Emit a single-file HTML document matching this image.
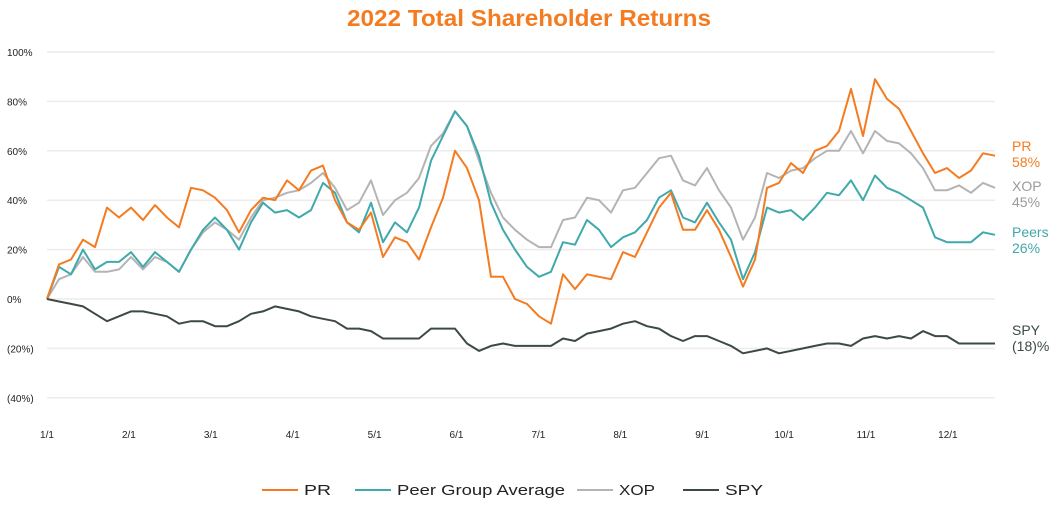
<!DOCTYPE html>
<html><head><meta charset="utf-8"><style>
body{margin:0;background:#fff;width:1058px;height:504px;overflow:hidden;font-family:"Liberation Sans",sans-serif}
svg text{font-family:"Liberation Sans",sans-serif}
</style></head><body>
<svg id="chart" width="1058" height="504">
<text x="347" y="26" textLength="364" lengthAdjust="spacingAndGlyphs" font-size="23" font-weight="bold" fill="#f47b20">2022 Total Shareholder Returns</text>
<g id="grid"></g><g id="series"></g><g id="labels"></g><g id="legend"></g>
</svg>
<script>
const xTicks=["1/1","2/1","3/1","4/1","5/1","6/1","7/1","8/1","9/1","10/1","11/1","12/1"];
const yTicks=[100,80,60,40,20,0,-20,-40];
const yTickLabels=["100%","80%","60%","40%","20%","0%","(20%)","(40%)"];
const prValues=[0,14,16,24,21,37,33,37,32,38,33,29,45,44,41,36,27,36,41,40,48,44,52,54,40,31,28,35,17,25,23,16,29,41,60,53,40,9,9,0,-2,-7,-10,10,4,10,9,8,19,17,27,37,43,28,28,36,28,17,5,16,45,47,55,51,60,62,68,85,66,89,81,77,68,59,51,53,49,52,59,58];
const peerValues=[0,13,10,20,12,15,15,19,13,19,15,11,20,28,33,28,20,31,39,35,36,33,36,47,43,31,27,39,23,31,27,37,56,66,76,70,58,39,28,20,13,9,11,23,22,32,28,21,25,27,32,41,44,33,31,39,31,24,8,19,37,35,36,32,37,43,42,48,40,50,45,43,40,37,25,23,23,23,27,26];
const xopValues=[0,8,10,17,11,11,12,17,12,17,15,11,20,27,31,28,24,33,40,41,43,44,47,51,45,36,39,48,34,40,43,49,62,67,76,70,56,43,33,28,24,21,21,32,33,41,40,35,44,45,51,57,58,48,46,53,44,37,24,33,51,49,52,53,57,60,60,68,59,68,64,63,59,53,44,44,46,43,47,45];
const spyValues=[0,-1,-2,-3,-6,-9,-7,-5,-5,-6,-7,-10,-9,-9,-11,-11,-9,-6,-5,-3,-4,-5,-7,-8,-9,-12,-12,-13,-16,-16,-16,-16,-12,-12,-12,-18,-21,-19,-18,-19,-19,-19,-19,-16,-17,-14,-13,-12,-10,-9,-11,-12,-15,-17,-15,-15,-17,-19,-22,-21,-20,-22,-21,-20,-19,-18,-18,-19,-16,-15,-16,-15,-16,-13,-15,-15,-18,-18,-18,-18];
const NS="http://www.w3.org/2000/svg";
const X0=47,X1=995;
const yScale=v=>299-v*2.47;
const xTick=i=>47+i*81.9;
const xIdx=(i,n)=>X0+i*(X1-X0)/(n-1);
function mk(tag,attrs,parent,text){const e=document.createElementNS(NS,tag);for(const k in attrs)e.setAttribute(k,attrs[k]);if(text!==undefined)e.textContent=text;parent.appendChild(e);return e;}
const grid=document.getElementById('grid');
yTicks.forEach((v,i)=>{
  const l=mk('line',{x1:X0,x2:X1,y1:yScale(v),y2:yScale(v),stroke:'#ececec','stroke-width':1.5},grid);
  
  
  const t=mk('text',{x:7,y:yScale(v)+4,'font-size':10,fill:'#222'},grid,yTickLabels[i]);
  
  
});
xTicks.forEach((s,i)=>{
  const t=mk('text',{x:xTick(i),y:438,'font-size':10,fill:'#222','text-anchor':'middle'},grid,s);
  
  
});
const series=[["xop",xopValues,"#b4b4b4"],["peer-group",peerValues,"#3fa9ab"],["pr",prValues,"#f47b20"],["spy",spyValues,"#3c4a41"]];
const sg=document.getElementById('series');
series.forEach(([n,vals,c])=>{
  const d=vals.map((v,i)=>(i?'L':'M')+xIdx(i,vals.length).toFixed(1)+' '+yScale(v).toFixed(1)).join(' ');
  const p=mk('path',{d:d,fill:'none',stroke:c,'stroke-width':2,'stroke-linejoin':'round'},sg);
  
  
});
const lg=document.getElementById('labels');
const endLabels=[["PR",prValues,"#f47b20",151],["XOP",xopValues,"#9a9a9a",191],["Peers",peerValues,"#3fa9ab",237],["SPY",spyValues,"#3c4a41",335]];
endLabels.forEach(([n,vals,c,y])=>{
  const v=vals[vals.length-1];
  const t1=mk('text',{x:1012,y:y,'font-size':14,fill:c},lg,n);
  
  
  const t2=mk('text',{x:1012,y:y+16,'font-size':14,fill:c},lg,v<0?'('+(-v)+')%':v+'%');
  
  
});
const leg=document.getElementById('legend');
[["PR","#f47b20",262,27],["Peer Group Average","#3fa9ab",355,168],["XOP","#b4b4b4",577,36],["SPY","#3c4a41",683,38]].forEach(([n,c,x,w])=>{
  const g=mk('g',{},leg);
  
  
  mk('line',{x1:x,x2:x+36,y1:490,y2:490,stroke:c,'stroke-width':2},g);
  mk('text',{x:x+42,y:495,'font-size':15,fill:'#222',textLength:w,lengthAdjust:'spacingAndGlyphs'},g,n);
});
</script>
</body></html>
